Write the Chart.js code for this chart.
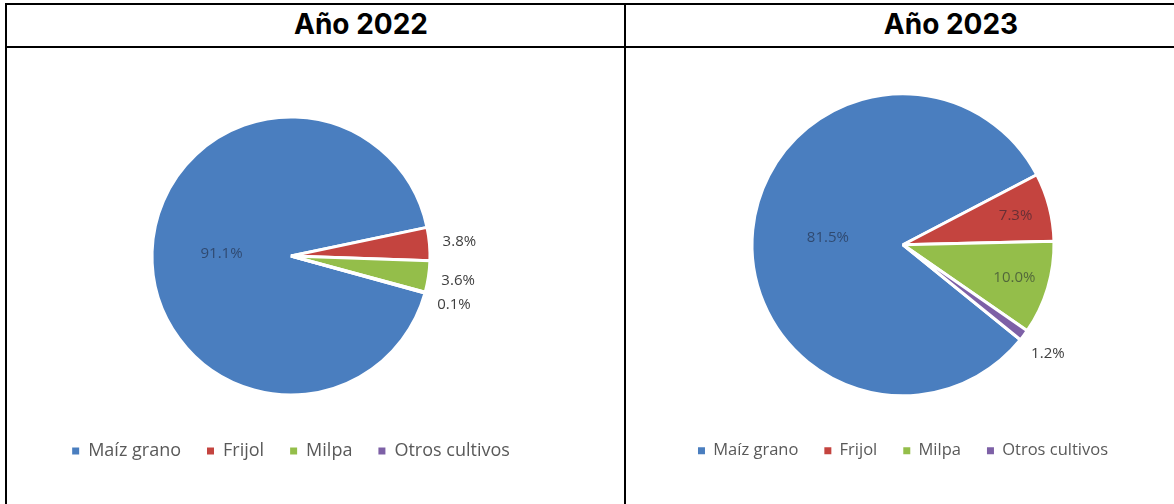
<!DOCTYPE html>
<html>
<head>
<meta charset="utf-8">
<script src="https://cdn.jsdelivr.net/npm/chart.js@4/dist/chart.umd.min.js"></script>
<style>
  body { margin: 0; width: 1174px; height: 504px; overflow: hidden; background: #fff; position: relative; }
  .line { position: absolute; background: #000; }
  .title { position: absolute; top: 7px; height: 41px; line-height: 41px; width: 300px;
           text-align: center; font: 700 28px Inter, sans-serif; color: #000; }
  .pie { position: absolute; top: 48px; height: 456px; }
</style>
</head>
<body>
<div class="line" style="left:5px; top:3px; width:1169px; height:2px"></div>
<div class="line" style="left:5px; top:3px; width:2px; height:501px"></div>
<div class="line" style="left:5px; top:46px; width:1169px; height:2px"></div>
<div class="line" style="left:624px; top:3px; width:2px; height:501px"></div>
<div class="title" id="titulo0" style="left:211px"></div>
<div class="title" id="titulo1" style="left:801px"></div>
<div class="pie" style="left:11px; width:560px"><canvas id="pie2022"></canvas></div>
<div class="pie" style="left:633px; width:540px"><canvas id="pie2023"></canvas></div>

<script>
const anios = ["Año 2022", "Año 2023"];
const cultivos = ["Maíz grano", "Frijol", "Milpa", "Otros cultivos"];
const colores = ["#4A7EBF", "#C4443F", "#94BE4A", "#7D60A6"];
const valores2022 = [91.1, 3.8, 3.6, 0.1];
const valores2023 = [81.5, 7.3, 10.0, 1.2];

anios.forEach((a, i) => document.getElementById("titulo" + i).textContent = a);

// etiquetas de porcentaje: dentro del sector o fuera del borde
const etiquetasPie = {
  id: "etiquetasPie",
  afterDatasetsDraw(chart, args, opts) {
    const ctx = chart.ctx;
    const meta = chart.getDatasetMeta(0);
    const data = chart.data.datasets[0].data;
    let ultimaY = -Infinity;
    ctx.save();
    ctx.font = opts.font;
    ctx.textAlign = "center";
    ctx.textBaseline = "middle";
    meta.data.forEach((arc, i) => {
      const p = arc.getProps(["x", "y", "startAngle", "endAngle", "outerRadius"], true);
      const medio = (p.startAngle + p.endAngle) / 2;
      const lugar = opts.lugar[i];
      let dist, color;
      if (lugar === "fuera") {
        dist = p.outerRadius + opts.separacion;
        color = opts.colorFuera;
      } else {
        dist = p.outerRadius * (lugar === "centro" ? 0.5 : 0.77);
        color = opts.colorDentro;
      }
      const lx = p.x + Math.cos(medio) * dist;
      let ly = p.y + Math.sin(medio) * dist;
      if (lugar === "fuera") {
        ly = Math.max(ly, ultimaY + opts.minGap);
        ultimaY = ly;
      }
      ctx.fillStyle = color;
      ctx.fillText(data[i].toFixed(1) + "%", lx, ly);
    });
    ctx.restore();
  }
};

function crearPie(id, valores, rotacion, radio, padding, fuenteLeyenda, lugar) {
  return new Chart(document.getElementById(id), {
    type: "pie",
    data: {
      labels: cultivos,
      datasets: [{
        data: valores,
        backgroundColor: colores,
        borderColor: "#fff",
        borderWidth: 3,
        rotation: rotacion,
        radius: radio
      }]
    },
    options: {
      responsive: true,
      maintainAspectRatio: false,
      animation: false,
      layout: { padding: padding },
      plugins: {
        legend: {
          position: "bottom",
          labels: {
            boxWidth: 7,
            boxHeight: 7,
            padding: 26,
            color: "#595959",
            font: { family: "Open Sans", size: fuenteLeyenda },
            generateLabels: (c) => Chart.overrides.doughnut.plugins.legend.labels
              .generateLabels(c).map(l => ({ ...l, lineWidth: 0 }))
          }
        },
        tooltip: { enabled: false },
        etiquetasPie: {
          lugar: lugar,
          font: '15px "Open Sans"',
          separacion: 30,
          minGap: 24,
          colorFuera: "#404040",
          colorDentro: "rgba(25, 30, 45, 0.55)"
        }
      }
    },
    plugins: [etiquetasPie]
  });
}

crearPie("pie2022", valores2022, 105.5, 139, { top: 48, bottom: 34, left: 0, right: 0 }, 18,
  ["centro", "fuera", "fuera", "fuera"]);
crearPie("pie2023", valores2023, 129, 151, { top: 25, bottom: 35, left: 0, right: 0 }, 16.5,
  ["centro", "dentro", "dentro", "fuera"]);
</script>
</body>
</html>
